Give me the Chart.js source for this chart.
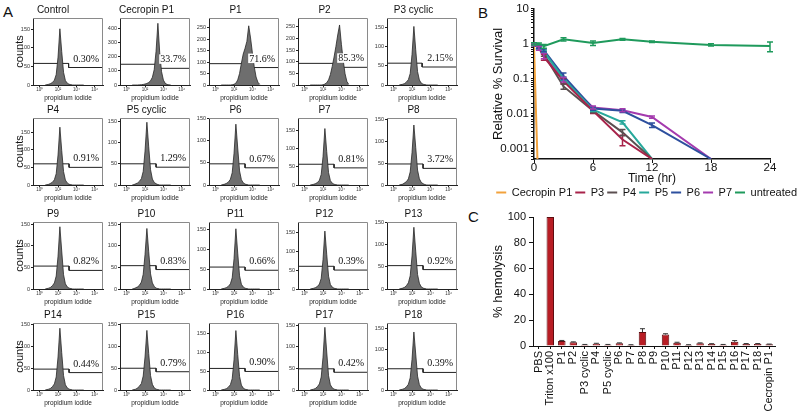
<!DOCTYPE html>
<html>
<head>
<meta charset="utf-8">
<script src="https://cdn.jsdelivr.net/npm/chart.js@4/dist/chart.umd.min.js"></script>
<style>
  body { margin: 0; width: 800px; height: 411px; background: #fff; position: relative; overflow: hidden;
         font-family: "Liberation Sans", Arial, sans-serif; }
  canvas { position: absolute; }
  .panel { position: absolute; font-size: 15px; color: #111; }
</style>
</head>
<body>
<div class="panel" style="left:3px;top:3px">A</div>
<div class="panel" style="left:478px;top:4px">B</div>
<div class="panel" style="left:468px;top:208px">C</div>
<canvas id="survival" width="320" height="208" style="left:480px;top:0px"></canvas>
<canvas id="hemolysis" width="320" height="206" style="left:480px;top:205px"></canvas>
<script>
const FONT = '"Liberation Sans", Arial, sans-serif';
Chart.defaults.font.family = FONT;
Chart.defaults.color = '#111';

// ---- A: flow histograms (x = log10 of propidium iodide signal) ----
const bins = [0.6, 0.8, 1.0, 1.2, 1.4, 1.6, 1.8, 2.0, 2.2, 2.4, 2.6, 2.8, 3.0, 3.2, 3.4, 3.6, 3.8, 4.0, 4.2, 4.4, 4.6, 4.8];
const countsControl  = [0, 1, 2, 4, 7, 13, 28, 75, 151, 90, 34, 12, 5, 2, 1, 0, 0, 0, 0, 0, 0, 0];
const countsCecropin = [0, 0, 0, 0, 1, 2, 4, 7, 11, 18, 30, 55, 110, 240, 440, 230, 95, 35, 12, 4, 1, 0];
const countsP1  = [0, 0, 0, 0, 0, 0, 1, 3, 8, 22, 50, 95, 135, 160, 190, 258, 205, 140, 80, 35, 12, 3];
const countsP2  = [0, 0, 0, 0, 0, 0, 0, 1, 4, 10, 22, 45, 80, 120, 165, 215, 258, 175, 105, 48, 15, 3];
const countsP3c = [0, 1, 2, 4, 8, 14, 30, 80, 153, 92, 35, 13, 5, 2, 1, 0, 0, 0, 0, 0, 0, 0];
const countsP4  = [0, 1, 2, 5, 8, 15, 32, 85, 164, 98, 38, 14, 6, 2, 1, 0, 0, 0, 0, 0, 0, 0];
const countsP5c = [0, 1, 3, 5, 9, 15, 32, 80, 148, 90, 36, 14, 6, 3, 1, 0, 0, 0, 0, 0, 0, 0];
const countsP6  = [0, 1, 2, 4, 7, 13, 28, 72, 138, 84, 32, 12, 5, 2, 1, 0, 0, 0, 0, 0, 0, 0];
const countsP7  = [0, 1, 2, 4, 7, 13, 29, 78, 155, 92, 34, 12, 5, 2, 1, 0, 0, 0, 0, 0, 0, 0];
const countsP8  = [0, 1, 2, 5, 8, 14, 30, 74, 137, 86, 34, 14, 6, 3, 1, 0, 0, 0, 0, 0, 0, 0];
const countsP9  = [0, 1, 2, 4, 8, 14, 30, 76, 144, 88, 33, 12, 5, 2, 1, 0, 0, 0, 0, 0, 0, 0];
const countsP10 = [0, 1, 3, 5, 9, 16, 34, 80, 140, 86, 35, 14, 6, 2, 1, 0, 0, 0, 0, 0, 0, 0];
const countsP11 = [0, 1, 2, 4, 7, 13, 28, 76, 151, 90, 33, 12, 5, 2, 1, 0, 0, 0, 0, 0, 0, 0];
const countsP12 = [0, 1, 2, 4, 7, 13, 28, 78, 153, 92, 34, 12, 5, 2, 1, 0, 0, 0, 0, 0, 0, 0];
const countsP13 = [0, 1, 2, 4, 8, 14, 30, 75, 140, 86, 33, 13, 5, 2, 1, 0, 0, 0, 0, 0, 0, 0];
const countsP14 = [0, 1, 2, 4, 8, 14, 30, 76, 142, 86, 33, 12, 5, 2, 1, 0, 0, 0, 0, 0, 0, 0];
const countsP15 = [0, 1, 2, 5, 9, 15, 32, 76, 137, 84, 33, 13, 5, 2, 1, 0, 0, 0, 0, 0, 0, 0];
const countsP16 = [0, 1, 2, 4, 8, 14, 30, 80, 157, 94, 36, 13, 5, 2, 1, 0, 0, 0, 0, 0, 0, 0];
const countsP17 = [0, 1, 2, 4, 8, 14, 30, 76, 145, 88, 33, 12, 5, 2, 1, 0, 0, 0, 0, 0, 0, 0];
const countsP18 = [0, 1, 2, 4, 8, 14, 30, 75, 142, 88, 34, 13, 5, 2, 1, 0, 0, 0, 0, 0, 0, 0];
const histCounts = [countsControl, countsCecropin, countsP1, countsP2, countsP3c,
                    countsP4, countsP5c, countsP6, countsP7, countsP8,
                    countsP9, countsP10, countsP11, countsP12, countsP13,
                    countsP14, countsP15, countsP16, countsP17, countsP18];

const panelNames = ['Control', 'Cecropin P1', 'P1', 'P2', 'P3 cyclic', 'P4', 'P5 cyclic', 'P6', 'P7', 'P8',
                    'P9', 'P10', 'P11', 'P12', 'P13', 'P14', 'P15', 'P16', 'P17', 'P18'];
const panelPercents = ['0.30%', '33.7%', '71.6%', '85.3%', '2.15%', '0.91%', '1.29%', '0.67%', '0.81%', '3.72%',
                       '0.82%', '0.83%', '0.66%', '0.39%', '0.92%', '0.44%', '0.79%', '0.90%', '0.42%', '0.39%'];
const panelYMax = [180, 478, 292, 288, 175, 190, 158, 152, 184, 153, 155, 155, 168, 177, 152, 154, 154, 177, 155, 164];
const panelYStep = [50, 100, 50, 50, 50, 50, 50, 50, 50, 50, 50, 50, 50, 50, 50, 50, 50, 50, 50, 50];
const gateX = [3.15, 3.5, 3.5, 3.45, 3.1, 3.2, 3.2, 3.2, 3.2, 3.2, 3.2, 3.2, 3.2, 3.2, 3.2, 3.2, 3.2, 3.2, 3.2, 3.2];
const gateLeft = [58, 148, 93, 93, 57, 60, 50, 48, 57, 48, 53, 54, 55, 60, 53, 48, 50, 57, 49, 52];
const gateRight = [47, 119, 76, 76, 47, 50, 42, 39, 47, 38, 43, 45, 47, 50, 44, 40, 42, 49, 41, 43];
const decadeTicks = [0, 2, 4, 6];
const decadeLabels = {0: '10⁰', 2: '10²', 4: '10⁴', 6: '10⁶'};

const X_MIN = -0.73, X_MAX = 6.9;
const boxLefts = [33, 120, 209, 298, 387];
const boxTops = [18, 118, 222, 323];
const BOX_W = 70, BOX_H = 67, TITLE_H = 19, XAXIS_H = 17;

const histDecor = {
  id: 'histDecor',
  afterDatasetsDraw(chart, args, opts) {
    const { ctx, chartArea: a, scales } = chart;
    ctx.save();
    ctx.font = '10px "Liberation Serif", "Times New Roman", serif';
    ctx.textAlign = 'right';
    ctx.textBaseline = 'alphabetic';
    const base = scales.y.getPixelForValue(opts.gateY) - 6;
    const w = ctx.measureText(opts.text).width;
    ctx.fillStyle = '#fff';
    ctx.fillRect(a.right - 4 - w - 1, base - 8, w + 2, 9.5);
    ctx.fillStyle = '#111';
    ctx.fillText(opts.text, a.right - 4, base);
    ctx.restore();
  },
  afterDraw(chart) {
    const { ctx, chartArea: a } = chart;
    ctx.save();
    ctx.strokeStyle = '#8a8a8a';
    ctx.lineWidth = 1;
    ctx.beginPath();
    ctx.moveTo(a.left, a.top + 0.5);
    ctx.lineTo(a.right - 0.5, a.top + 0.5);
    ctx.lineTo(a.right - 0.5, a.bottom);
    ctx.stroke();
    ctx.restore();
  }
};

function makeHistogram(i) {
  const col = i % 5, row = Math.floor(i / 5);
  const yW = col === 0 ? 30 : 17;
  const canvas = document.createElement('canvas');
  canvas.width = yW + BOX_W + yW;
  canvas.height = TITLE_H + BOX_H + XAXIS_H;
  canvas.style.left = (boxLefts[col] - yW) + 'px';
  canvas.style.top = (boxTops[row] - TITLE_H) + 'px';
  document.body.appendChild(canvas);

  const points = bins.map((b, k) => ({ x: b, y: histCounts[i][k] }));
  const gate = [
    { x: X_MIN, y: gateLeft[i] }, { x: gateX[i], y: gateLeft[i] },
    { x: gateX[i], y: gateRight[i] }, { x: X_MAX, y: gateRight[i] }
  ];

  new Chart(canvas, {
    type: 'line',
    data: {
      datasets: [
        { data: points, fill: 'origin', backgroundColor: '#6e6e6e', borderColor: '#262626',
          borderWidth: 0.8, pointRadius: 0 },
        { data: gate, fill: false, borderColor: '#222', borderWidth: 1, pointRadius: 0 }
      ]
    },
    options: {
      responsive: false,
      animation: false,
      layout: { padding: { right: yW } },
      plugins: {
        legend: { display: false },
        tooltip: { enabled: false },
        title: { display: true, text: panelNames[i], color: '#111',
                 font: { size: 10, weight: 'normal' }, padding: { top: 5, bottom: 2 } },
        histDecor: { text: panelPercents[i], gateY: gateRight[i] }
      },
      scales: {
        x: {
          type: 'linear', min: X_MIN, max: X_MAX,
          afterFit: s => { s.height = XAXIS_H; },
          afterBuildTicks: s => { s.ticks = decadeTicks.map(v => ({ value: v })); },
          grid: { drawOnChartArea: false, tickLength: 2, color: '#222' },
          border: { color: '#222', width: 1 },
          ticks: { font: { size: 4.5 }, color: '#333', padding: 0, maxRotation: 0, autoSkip: false,
                   callback: v => decadeLabels[v] || '' },
          title: { display: true, text: 'propidium iodide', font: { size: 6.5 }, color: '#222', padding: 0 }
        },
        y: {
          min: 0, max: panelYMax[i],
          afterFit: s => { s.width = yW; },
          afterBuildTicks: s => {
            const t = [];
            for (let v = 0; v <= panelYMax[i]; v += panelYStep[i]) t.push({ value: v });
            s.ticks = t;
          },
          grid: { drawOnChartArea: false, tickLength: 2, color: '#222' },
          border: { color: '#222', width: 1 },
          ticks: { font: { size: 5.5 }, color: '#333', padding: 1 },
          title: { display: col === 0, text: 'counts', font: { size: 11 }, color: '#111',
                   padding: { top: 10, bottom: 0 } }
        }
      }
    },
    plugins: [histDecor]
  });
}
for (let i = 0; i < panelNames.length; i++) makeHistogram(i);

// ---- shared error bar drawing ----
const errorBars = {
  id: 'errorBars',
  afterDatasetsDraw(chart) {
    const ctx = chart.ctx;
    const yScale = chart.scales.y;
    chart.data.datasets.forEach((ds, di) => {
      if (!ds.errors) return;
      const meta = chart.getDatasetMeta(di);
      ctx.save();
      ctx.strokeStyle = ds.errorColor || ds.borderColor;
      ctx.lineWidth = ds.errorWidth || 1.5;
      meta.data.forEach((el, k) => {
        const raw = ds.data[k];
        const v = typeof raw === 'object' ? raw.y : raw;
        const e = ds.errors[k];
        if (!e || v == null) return;
        const cap = ds.errorCap || 3;
        const top = yScale.getPixelForValue(v + e);
        const bot = ds.errorMode === 'up' ? yScale.getPixelForValue(v)
                                          : yScale.getPixelForValue(Math.max(v - e, yScale.min));
        ctx.beginPath();
        ctx.moveTo(el.x, top); ctx.lineTo(el.x, bot);
        ctx.moveTo(el.x - cap, top); ctx.lineTo(el.x + cap, top);
        if (ds.errorMode !== 'up') { ctx.moveTo(el.x - cap, bot); ctx.lineTo(el.x + cap, bot); }
        ctx.stroke();
      });
      ctx.restore();
    });
  }
};

// ---- B: survival over time ----
const survivalTimes = [0, 0.5, 1, 3, 6, 9, 12, 18, 24];
const cecropinTimes = [0, 0.35];
const cecropinSurvival = [0.85, 0.0005];
const p3Survival = [0.95, 0.8, 0.42, 0.085, 0.012, 0.0018, 0.0005, null, null];
const p4Survival = [0.95, 0.8, 0.5, 0.06, 0.012, 0.0029, 0.0005, null, null];
const p5Survival = [0.95, 0.78, 0.6, 0.1, 0.013, 0.0056, 0.0005, null, null];
const p6Survival = [0.95, 0.82, 0.65, 0.12, 0.014, 0.012, 0.0047, 0.0005, null];
const p7Survival = [0.95, 0.75, 0.45, 0.095, 0.015, 0.0125, 0.008, 0.0005, null];
const untreatedSurvival = [1.0, 1.0, 0.85, 1.35, 1.05, 1.35, 1.15, 0.93, 0.86];
const p3Err = [0.05, 0.1, 0.08, 0.015, 0.002, 0.0006, 0, 0, 0];
const p4Err = [0.05, 0.08, 0.06, 0.01, 0.0015, 0.0006, 0, 0, 0];
const p5Err = [0.05, 0.08, 0.05, 0.012, 0.0015, 0.0006, 0, 0, 0];
const p6Err = [0.05, 0.08, 0.06, 0.025, 0.0015, 0.0012, 0.0007, 0, 0];
const p7Err = [0.05, 0.1, 0.08, 0.015, 0.0015, 0.0012, 0.0006, 0, 0];
const untreatedErr = [0.08, 0.06, 0.1, 0.15, 0.15, 0.08, 0.06, 0.07, 0.27];
const survivalTickLabels = ['0.001', '0.01', '0.1', '1', '10'];

function survivalSeries(label, times, values, errs, color) {
  const data = [], errors = [];
  times.forEach((t, k) => {
    if (values[k] == null) return;
    data.push({ x: t, y: values[k] });
    errors.push(errs ? errs[k] : 0);
  });
  return { label, data, errors, borderColor: color, backgroundColor: color,
           borderWidth: 2, pointRadius: 0, pointStyle: 'line', fill: false, errorCap: 3, errorWidth: 1.5 };
}

new Chart(document.getElementById('survival'), {
  type: 'line',
  data: {
    datasets: [
      survivalSeries('Cecropin P1', cecropinTimes, cecropinSurvival, null, '#f2a23c'),
      survivalSeries('P3', survivalTimes, p3Survival, p3Err, '#a8234a'),
      survivalSeries('P4', survivalTimes, p4Survival, p4Err, '#5b4f50'),
      survivalSeries('P5', survivalTimes, p5Survival, p5Err, '#27a89b'),
      survivalSeries('P6', survivalTimes, p6Survival, p6Err, '#2d4f9e'),
      survivalSeries('P7', survivalTimes, p7Survival, p7Err, '#a43aae'),
      survivalSeries('untreated', survivalTimes, untreatedSurvival, untreatedErr, '#1f9a5c')
    ]
  },
  options: {
    responsive: false,
    animation: false,
    layout: { padding: { top: 4 } },
    plugins: {
      legend: { position: 'bottom', align: 'end',
                labels: { usePointStyle: true, pointStyle: 'line', pointStyleWidth: 10, boxHeight: 8,
                          padding: 3, font: { size: 11 }, color: '#111' } },
      tooltip: { enabled: false }
    },
    scales: {
      x: {
        type: 'linear', min: 0, max: 24,
        afterFit: s => { s.height = 25; },
        ticks: { stepSize: 6, font: { size: 11.5 }, color: '#111', padding: -2 },
        grid: { drawOnChartArea: false, tickLength: 4, color: '#111' },
        border: { color: '#111', width: 1.5 },
        title: { display: true, text: 'Time (hr)', font: { size: 12 }, color: '#111', padding: { top: 0, bottom: -2 } }
      },
      y: {
        type: 'logarithmic', min: 0.0005, max: 10,
        afterFit: s => { s.width = 54; },
        ticks: { font: { size: 11.5 }, color: '#111', padding: 2, autoSkip: false,
                 callback: v => {
                   const e = Math.log10(v);
                   if (Math.abs(e - Math.round(e)) > 1e-6 || Math.round(e) < -3) return '';
                   return survivalTickLabels[Math.round(e) + 3];
                 } },
        grid: { drawOnChartArea: false, tickLength: 3, color: '#111' },
        border: { color: '#111', width: 1.5 },
        title: { display: true, text: 'Relative % Survival', font: { size: 13 }, color: '#111',
                 padding: { top: 11, bottom: 0 } }
      },
      yRight: {
        axis: 'y', type: 'linear', position: 'right', display: true,
        afterFit: s => { s.width = 30; },
        grid: { display: false }, border: { display: false }, ticks: { display: false }
      }
    }
  },
  plugins: [errorBars]
});

// ---- C: hemolysis ----
const hemoLabels = ['PBS', 'Triton x100', 'P1', 'P2', 'P3 cyclic', 'P4', 'P5 cyclic', 'P6', 'P7', 'P8', 'P9',
                    'P10', 'P11', 'P12', 'P13', 'P14', 'P15', 'P16', 'P17', 'P18', 'Cecropin P1'];
const hemoValues = [0, 100, 3.9, 2.9, 1.0, 1.8, 1.0, 2.1, 0.8, 10.8, 0, 8.9, 2.6, 0.8, 2.1, 1.6, 1.0, 3.2, 1.6, 1.6, 1.3];
const hemoErr = [0, 0, 0.4, 0.3, 0.2, 0.3, 0.2, 0.3, 0.2, 2.6, 0, 0.6, 0.3, 0.2, 0.3, 0.2, 0.2, 1.0, 0.3, 0.3, 0.2];

new Chart(document.getElementById('hemolysis'), {
  type: 'bar',
  data: {
    labels: hemoLabels,
    datasets: [{
      data: hemoValues, errors: hemoErr, errorMode: 'up', errorColor: '#333', errorWidth: 1, errorCap: 2.5,
      backgroundColor: '#b81d24', borderColor: '#5c0d10', borderWidth: 1,
      barPercentage: 0.65, categoryPercentage: 1
    }]
  },
  options: {
    responsive: false,
    animation: false,
    layout: { padding: { top: 12, right: 25 } },
    plugins: { legend: { display: false }, tooltip: { enabled: false } },
    scales: {
      x: {
        afterFit: s => { s.height = 65; },
        ticks: { autoSkip: false, minRotation: 90, maxRotation: 90, font: { size: 11 }, color: '#111', padding: 2 },
        grid: { drawOnChartArea: false, offset: false, tickLength: 3, color: '#111' },
        border: { color: '#111', width: 1 }
      },
      y: {
        min: 0, max: 100,
        afterFit: s => { s.width = 53; },
        ticks: { stepSize: 20, font: { size: 11 }, color: '#111', padding: 3 },
        grid: { drawOnChartArea: false, tickLength: 4, color: '#111' },
        border: { color: '#111', width: 1 },
        title: { display: true, text: '% hemolysis', font: { size: 13 }, color: '#111',
                 padding: { top: 11, bottom: 0 } }
      }
    }
  },
  plugins: [errorBars]
});
</script>
</body>
</html>
